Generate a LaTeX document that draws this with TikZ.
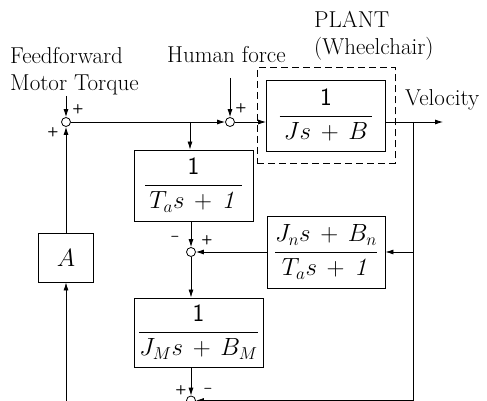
\documentclass[tikz,border=0pt]{standalone}
\usepackage{amsmath}
\usetikzlibrary{arrows.meta,positioning,fit,calc}
\tikzset{
  block/.style={
    rectangle, draw, line width=0.9pt,
    minimum width=119pt, minimum height=71pt,
    inner sep=0pt, align=center, font=\fontsize{25}{29}\selectfont
  },
  sumnode/.style={circle, draw, line width=0.8pt, fill=white, minimum size=9pt, inner sep=0pt},
  plantbox/.style={rectangle, draw, line width=0.8pt, dash pattern=on 7pt off 4pt, inner xsep=9pt, inner ysep=12pt},
  arrow/.style={-{Latex[length=8pt,width=5pt]}, line width=0.8pt},
  sign/.style={font=\sffamily\bfseries\fontsize{13}{13}\selectfont, inner sep=0pt},
  textlbl/.style={font=\fontsize{23}{27}\selectfont, inner sep=0pt}
}
\begin{document}
\begin{tikzpicture}[x=1pt, y=-1pt]
\clip (0,0) rectangle (487,401);

% summing junctions
\node[sumnode] (ffsum) at (66,122) {};
\node[sumnode] (hsum) at (230,122) {};
\node[sumnode] (msum) at (191,252) {};
\node[sumnode] (bsum) at (191,400.5) {};

% blocks
\node[block] (plant) at (326,115.5) {$\dfrac{\mathsf{1}}{\,Js\,+\,B\,}$};
\node[plantbox, fit=(plant)] (plantfit) {};
\node[block] (lowpass) at (193.5,185.5) {$\dfrac{\mathsf{1}}{\,T_as\,+\,\mathit{1}\,}$};
\node[block, minimum width=118pt, minimum height=72pt] (observer) at (326,252)
  {$\dfrac{J_ns\,+\,B_n}{T_as\,+\,\mathit{1}}$};
\node[block, minimum width=129pt, minimum height=69pt] (motor) at (198.5,332.5)
  {$\dfrac{\mathsf{1}}{J_Ms\,+\,B_M}$};
\node[block, minimum width=55pt, minimum height=49pt] (gain) at (66,257.5) {$A$};

% free ends
\coordinate (ffin) at (66,96);
\coordinate (hin) at (230,78);
\coordinate (vout) at (443,122);
\coordinate (tap) at (413,122);
\coordinate (split) at (190,122);
\coordinate (gin) at (66,420);

% connectors
\draw[arrow] (ffin) -- (ffsum);
\draw[arrow] (hin) -- (hsum);
\draw[arrow] (ffsum) -- (hsum);
\draw[arrow] (split) -- (split |- lowpass.north);
\draw[arrow] (hsum) -- (hsum -| plant.west);
\draw[arrow] (plant.east |- hsum) -- (vout);
\draw[arrow] (tap) |- (bsum);
\draw[arrow] (tap |- observer.east) -- (observer.east);
\draw[arrow] (observer) -- (msum);
\draw[arrow] (lowpass.south -| msum) -- (msum);
\draw[arrow] (msum) -- (msum |- motor.north);
\draw[arrow] (msum |- motor.south) -- (bsum);
\draw[arrow] (gain) -- (ffsum);
\draw[arrow] (gin) -- (gain);

% signs
\node[sign] (ffplusa) at (78,109) {+};
\node[sign] (ffplusb) at (53,132) {+};
\node[sign] (hplus) at (241,108) {+};
\node[sign] (mminus) at (175,238) {--};
\node[sign] (mplus) at (207,240) {+};
\node[sign] (bplus) at (181,390) {+};
\node[sign] (bminus) at (208,390) {--};

% texts
\node[textlbl, anchor=north west, align=left] (fflabel) at (10,47) {Feedforward\\Motor Torque};
\node[textlbl, anchor=base west] (hlabel) at (167,63) {Human force};
\node[textlbl, anchor=north west, align=left] (plantlabel) at (314,11) {PLANT\\(Wheelchair)};
\node[textlbl, anchor=base west] (vlabel) at (405,106) {Velocity};
\end{tikzpicture}
\end{document}
